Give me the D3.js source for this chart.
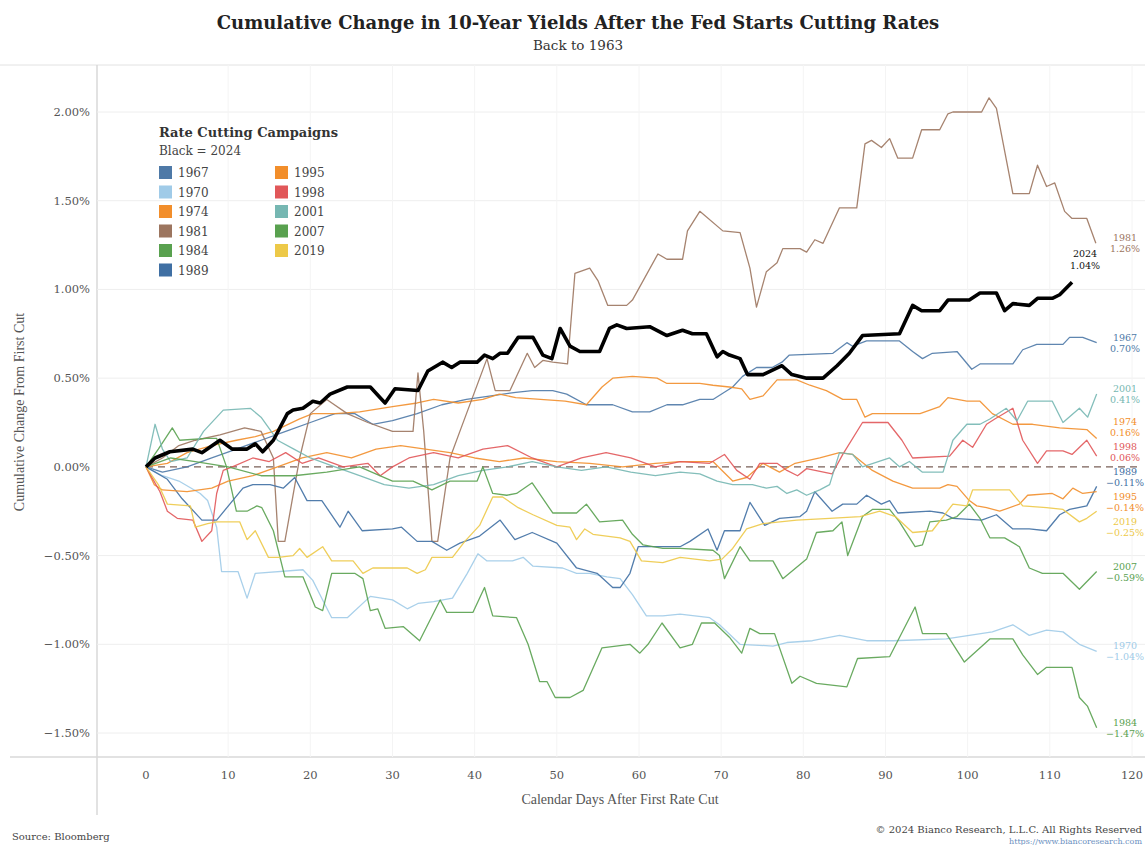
<!DOCTYPE html>
<html lang="en">
<head>
<meta charset="UTF-8">
<title>Cumulative Change in 10-Year Yields After the Fed Starts Cutting Rates</title>
<script src="https://d3js.org/d3.v7.min.js"></script>
<style>
  body { margin: 0; background: #fff; }
  svg { display: block; font-family: "DejaVu Serif", Georgia, serif; }
  .tick-label { font-size: 11.5px; fill: #555; }
  .axis-title { font-family: "Liberation Serif", serif; font-size: 14px; fill: #555; }
</style>
</head>
<body>
<svg width="1145" height="845"></svg>
<script>
// ---- data ----
const years = ["1967", "1970", "1974", "1981", "1984", "1989", "1995", "1998", "2001", "2007", "2019", "2024"];
const colors = ["#4e79a7", "#a0cbe8", "#f28e2b", "#9c755f", "#59a14f", "#3f6fa3", "#f28e2b", "#e15759", "#76b7b2", "#59a14f", "#edc948", "#000000"];
const yTicks = [-1.5, -1.0, -0.5, 0, 0.5, 1.0, 1.5, 2.0];
const xTicks = [0, 10, 20, 30, 40, 50, 60, 70, 80, 90, 100, 110, 120];

// [calendar day, cumulative change in %]
const s1967 = [[0,0],[2,-0.03],[5,0.0],[8,0.05],[11,0.1],[14,0.15],[17,0.2],[20,0.25],[23,0.3],[25.4,0.3],[27.6,0.24],[30,0.26],[33,0.3],[36,0.35],[39,0.38],[42,0.4],[45,0.42],[47,0.43],[49.5,0.43],[51.2,0.41],[53.6,0.35],[56.8,0.35],[59.2,0.31],[61.3,0.31],[63.4,0.35],[65.3,0.35],[67.4,0.38],[69,0.38],[71.4,0.45],[72.6,0.51],[74.3,0.56],[76.2,0.56],[77.4,0.59],[78.3,0.63],[83.6,0.64],[85.3,0.7],[86,0.68],[87.7,0.71],[91.7,0.71],[93.3,0.65],[94.5,0.61],[95.7,0.64],[98.7,0.65],[100.5,0.55],[101.5,0.58],[105.5,0.58],[106.7,0.66],[108.4,0.69],[111.6,0.69],[112.4,0.73],[114,0.73],[115.7,0.70]];
const s1970 = [[0,0],[2,-0.05],[4,-0.08],[6.6,-0.15],[7.5,-0.19],[8.6,-0.34],[9.2,-0.59],[11.2,-0.59],[12.3,-0.74],[13.3,-0.6],[19.1,-0.58],[20.3,-0.64],[21.5,-0.75],[22.6,-0.85],[24.5,-0.85],[27.3,-0.73],[30,-0.75],[31.8,-0.8],[33.1,-0.77],[35,-0.76],[37.3,-0.74],[39.1,-0.6],[40.4,-0.49],[41.5,-0.53],[44.6,-0.53],[45.9,-0.51],[47.1,-0.56],[50.7,-0.57],[52.4,-0.6],[54,-0.6],[56.1,-0.62],[57.7,-0.63],[59.2,-0.72],[60.9,-0.84],[62.9,-0.84],[65,-0.83],[68.6,-0.85],[69.8,-0.89],[72.3,-1.0],[76.3,-1.01],[78,-0.99],[81.1,-0.98],[84.4,-0.95],[87.7,-0.98],[90.9,-0.98],[97.4,-0.97],[103,-0.93],[105.5,-0.89],[107.5,-0.95],[109.6,-0.92],[111.6,-0.93],[113.6,-1.0],[115.7,-1.04]];
const s1974 = [[0,0],[2.6,0.02],[5,0.08],[8,0.12],[11,0.15],[13.3,0.17],[15.5,0.2],[18.7,0.27],[20.3,0.3],[23,0.3],[26,0.31],[30,0.34],[33,0.36],[35,0.38],[38,0.36],[41,0.38],[43,0.41],[45,0.39],[48,0.38],[51,0.37],[53.6,0.35],[55.5,0.45],[56.8,0.5],[59.2,0.51],[62.2,0.5],[63.4,0.47],[67.4,0.47],[69,0.46],[71,0.45],[72.5,0.44],[73.5,0.38],[75.1,0.4],[76.8,0.49],[79.2,0.49],[80.8,0.46],[82.8,0.43],[84.8,0.38],[86.5,0.38],[87.5,0.28],[88.4,0.3],[90.9,0.3],[94.2,0.3],[96.6,0.34],[97.6,0.39],[99.9,0.37],[101.5,0.37],[103,0.3],[105.5,0.24],[107.9,0.24],[111.2,0.22],[114.5,0.21],[115.7,0.16]];
const s1981 = [[0,0],[2,0.05],[4,0.12],[6,0.15],[9,0.18],[12,0.22],[14,0.2],[15.5,0.05],[16.1,-0.42],[16.9,-0.42],[18.7,0.05],[20,0.3],[22,0.38],[24.5,0.3],[27,0.25],[30,0.2],[32.5,0.2],[33.1,0.53],[33.8,0.2],[34.8,-0.42],[35.5,-0.42],[37,0.05],[38.2,0.2],[41.5,0.61],[42.5,0.43],[44.3,0.43],[46.4,0.64],[47.3,0.56],[48.3,0.6],[49.5,0.59],[51.3,0.58],[52.2,1.09],[54,1.12],[55,1.05],[56.2,0.91],[58.5,0.91],[59.2,0.94],[62.3,1.2],[63.4,1.17],[65.3,1.17],[65.9,1.33],[67.4,1.44],[70.2,1.33],[72.3,1.32],[73.5,1.12],[74.3,0.9],[75.5,1.1],[76.8,1.15],[77.5,1.23],[79.6,1.23],[80.4,1.21],[81.4,1.28],[82.4,1.26],[84.4,1.46],[86.5,1.46],[87.5,1.82],[88.3,1.84],[89.5,1.8],[90.5,1.85],[91.5,1.74],[93.3,1.74],[94.4,1.9],[96.6,1.9],[97.6,1.99],[98.2,2.0],[101.7,2.0],[102.6,2.08],[103.5,2.02],[105.5,1.54],[107.5,1.54],[108.5,1.7],[109.6,1.58],[110.6,1.6],[111.8,1.44],[112.7,1.4],[114.5,1.4],[115.6,1.26]];
const s1984 = [[0,0],[1.5,0.1],[3.2,0.22],[4.1,0.15],[7.4,0.16],[8.6,0.16],[9.8,0.0],[11,-0.25],[12.3,-0.25],[13.5,-0.22],[14.1,-0.23],[15.5,-0.36],[16.9,-0.62],[19.1,-0.62],[20.6,-0.79],[21.5,-0.81],[22.6,-0.6],[25.4,-0.6],[26.4,-0.63],[27.3,-0.81],[28.2,-0.8],[29.1,-0.91],[31.3,-0.9],[33.3,-0.98],[35.8,-0.75],[36.6,-0.82],[39.8,-0.82],[41.2,-0.68],[42.2,-0.84],[45.1,-0.85],[46.5,-1.0],[47.9,-1.21],[48.8,-1.21],[49.8,-1.3],[51.6,-1.3],[53.2,-1.26],[55.5,-1.02],[58.9,-1.0],[60.1,-1.05],[61.1,-1.0],[62.8,-0.88],[65,-1.02],[66.5,-1.0],[67.6,-0.88],[69.2,-0.88],[71,-0.96],[72.5,-1.05],[73.5,-0.91],[74.7,-0.94],[76.5,-0.94],[78.6,-1.22],[79.6,-1.18],[81.6,-1.22],[85.3,-1.24],[86.6,-1.08],[90.5,-1.07],[93.6,-0.79],[94.5,-0.94],[97.4,-0.94],[99.6,-1.1],[102.7,-0.97],[105.5,-0.97],[106.7,-1.06],[108.5,-1.17],[109.6,-1.13],[112.7,-1.13],[113.6,-1.3],[114.6,-1.35],[115.7,-1.47]];
const s1989 = [[0,0],[2.6,-0.07],[4.4,-0.18],[6.8,-0.3],[8.6,-0.3],[10.2,-0.21],[11.8,-0.12],[13,-0.1],[15.1,-0.1],[16.7,-0.12],[18.1,-0.06],[19.6,-0.19],[21.4,-0.19],[23.6,-0.34],[24.6,-0.25],[26.3,-0.36],[30,-0.35],[31.1,-0.34],[33,-0.42],[34.8,-0.42],[36.6,-0.47],[38.2,-0.43],[40.6,-0.39],[43.1,-0.3],[44.9,-0.41],[47,-0.37],[50,-0.43],[52.4,-0.57],[54.9,-0.6],[56.8,-0.68],[57.7,-0.68],[58.9,-0.6],[59.9,-0.45],[62.8,-0.45],[65,-0.45],[66.2,-0.42],[68.4,-0.35],[69.5,-0.47],[70.4,-0.36],[72.3,-0.36],[73.5,-0.2],[75.3,-0.33],[77.1,-0.29],[79.6,-0.28],[80.4,-0.25],[81.4,-0.14],[83.5,-0.25],[84.8,-0.21],[86.5,-0.21],[87.7,-0.16],[89.5,-0.21],[90.5,-0.19],[91.5,-0.26],[95.4,-0.25],[97,-0.26],[98.2,-0.29],[101.7,-0.3],[103.5,-0.27],[105.5,-0.35],[107.5,-0.35],[109.6,-0.36],[111.2,-0.27],[112.4,-0.24],[114.5,-0.22],[115.7,-0.11]];
const s1995 = [[0,0],[1,-0.1],[2,-0.13],[5,-0.14],[8,-0.12],[10,-0.08],[13,-0.05],[16,0.0],[19,0.05],[22,0.08],[25,0.05],[28,0.1],[31,0.12],[34,0.1],[37,0.08],[40,0.05],[43,0.03],[46,0.05],[50,0.03],[54,0.02],[58,0.0],[62,0.02],[65,0.03],[69,0.03],[71.4,-0.08],[73.1,-0.06],[75.1,0.02],[77.1,-0.03],[79,0.02],[82,0.05],[84.4,0.08],[86,0.07],[88.4,-0.02],[90.9,-0.08],[93.3,-0.12],[96.6,-0.12],[97.6,-0.1],[98.7,-0.11],[100.2,-0.19],[101.1,-0.22],[102.3,-0.23],[103.9,-0.25],[106.3,-0.21],[107.3,-0.16],[110.3,-0.15],[111.6,-0.18],[112.8,-0.12],[114,-0.15],[115.7,-0.14]];
const s1998 = [[0,0],[1.7,-0.14],[2.6,-0.25],[3.8,-0.29],[5.7,-0.3],[6.8,-0.42],[8,-0.36],[8.6,-0.15],[9.4,-0.02],[10.5,0.0],[13,0.05],[15,0.03],[17,0.08],[19,0.02],[21,0.05],[24,0.0],[27,0.02],[28.5,-0.05],[30,0.0],[32,0.05],[35,0.08],[38,0.05],[41,0.1],[44,0.12],[47,0.05],[50,0.0],[53,0.05],[56,0.08],[59,0.05],[62,0.0],[65,0.03],[68.6,0.02],[70.4,0.07],[71.9,-0.02],[73.5,-0.07],[74.7,0.02],[76.8,0.02],[78,-0.02],[79.3,-0.05],[80.4,-0.01],[83.5,-0.04],[84.8,0.07],[87.2,0.25],[90.3,0.25],[92,0.15],[93.3,0.05],[97.8,0.06],[99.4,0.15],[100.6,0.11],[102.3,0.24],[103.3,0.27],[105.5,0.33],[106.7,0.15],[108.5,0.02],[109.6,0.09],[111.6,0.09],[112.7,0.07],[114.5,0.15],[115.7,0.06]];
const s2001 = [[0,0],[1.1,0.24],[2,0.1],[3,0.03],[5,0.05],[7,0.2],[9.4,0.32],[12.7,0.33],[14,0.28],[16,0.15],[18,0.1],[20,0.05],[23,0.0],[26,-0.05],[29,-0.1],[32,-0.12],[35,-0.1],[38,-0.05],[41,-0.02],[44,0.0],[47,0.03],[50,0.0],[53,-0.02],[56,0.0],[59,-0.03],[62,-0.05],[65,-0.03],[67.4,-0.04],[69.5,-0.08],[71.4,-0.1],[73.8,-0.1],[75.5,-0.12],[76.8,-0.11],[78,-0.15],[79.2,-0.13],[80.4,-0.16],[82,-0.13],[83.2,-0.1],[84.4,0.08],[86,0.07],[87.2,0.0],[90.5,0.05],[91.7,0.0],[92.9,0.03],[94.5,-0.03],[97,-0.03],[98.2,0.15],[99.9,0.24],[101.5,0.24],[102.7,0.27],[104.7,0.33],[106,0.26],[107.3,0.37],[110.3,0.37],[111.6,0.25],[113.6,0.33],[114.6,0.28],[115.7,0.41]];
const s2007 = [[0,0],[3,0.05],[6,0.03],[10,0.0],[14,-0.05],[18,-0.05],[22,-0.03],[26,0.0],[30,-0.08],[32.5,-0.08],[34.8,-0.13],[37,-0.08],[40.3,-0.08],[41,0.0],[42.2,-0.15],[43.9,-0.16],[45.1,-0.15],[47,-0.09],[49.5,-0.26],[52.4,-0.26],[53.6,-0.21],[55.2,-0.31],[58,-0.3],[59.2,-0.38],[60.5,-0.44],[62.9,-0.46],[65,-0.46],[69,-0.47],[69.8,-0.5],[70.4,-0.63],[72.3,-0.45],[73.5,-0.53],[76.3,-0.53],[77.5,-0.63],[80.4,-0.52],[81.6,-0.37],[83.6,-0.36],[84.7,-0.31],[85.4,-0.5],[87.2,-0.28],[88.4,-0.24],[90.5,-0.24],[91.7,-0.31],[93.6,-0.45],[94.5,-0.44],[95.4,-0.31],[97.4,-0.3],[98.7,-0.28],[100.2,-0.21],[101.5,-0.29],[102.7,-0.4],[104.5,-0.4],[106.3,-0.45],[107.5,-0.57],[109.1,-0.6],[111.6,-0.6],[113.6,-0.69],[115.7,-0.59]];
const s2019 = [[0,0],[1.5,-0.1],[2.6,-0.21],[5.4,-0.22],[6,-0.34],[7.5,-0.32],[8.6,-0.31],[11.4,-0.31],[12.3,-0.41],[13.3,-0.36],[14.9,-0.51],[16.1,-0.51],[17.9,-0.5],[18.7,-0.46],[19.6,-0.51],[21.5,-0.45],[22.6,-0.53],[25.2,-0.53],[26.4,-0.6],[27.6,-0.57],[31.8,-0.57],[33,-0.6],[34,-0.58],[34.8,-0.51],[37.3,-0.51],[38.8,-0.42],[40.6,-0.33],[42.2,-0.17],[43.4,-0.17],[45.3,-0.23],[47.1,-0.27],[50,-0.33],[51.6,-0.34],[52.4,-0.41],[53.4,-0.35],[54.4,-0.38],[57.7,-0.4],[58.9,-0.42],[60.3,-0.53],[62.9,-0.54],[65,-0.51],[68.6,-0.53],[70.1,-0.52],[71.4,-0.46],[73.1,-0.35],[75.1,-0.32],[79.2,-0.3],[83.2,-0.29],[86.9,-0.28],[89.3,-0.25],[91.2,-0.28],[93.3,-0.37],[95.7,-0.36],[98.2,-0.21],[99.9,-0.22],[100.6,-0.13],[105.1,-0.13],[106.7,-0.22],[109.6,-0.23],[111.6,-0.24],[113.6,-0.31],[114.5,-0.29],[115.7,-0.25]];
const s2024 = [[0,0],[1.1,0.05],[2.9,0.085],[5.7,0.1],[6.8,0.08],[9,0.15],[10.5,0.1],[12.3,0.1],[13.3,0.13],[14.2,0.085],[15.5,0.15],[17.2,0.3],[17.9,0.32],[19.1,0.33],[20.3,0.37],[21.2,0.36],[22.4,0.41],[24.5,0.45],[27.3,0.45],[28.5,0.39],[29.1,0.36],[30.3,0.44],[33.1,0.43],[34.3,0.54],[36.1,0.59],[37.2,0.56],[38.2,0.59],[40.3,0.59],[41.2,0.63],[42.2,0.61],[43.1,0.64],[44,0.64],[45.3,0.73],[47.1,0.73],[48.3,0.63],[49.4,0.61],[50.4,0.78],[51.6,0.68],[52.8,0.65],[55.2,0.65],[56.4,0.78],[57.3,0.8],[58.5,0.78],[61.3,0.79],[63.4,0.74],[65.3,0.77],[66.5,0.75],[68.2,0.75],[69.5,0.62],[70.2,0.65],[71,0.63],[72.3,0.61],[73.2,0.52],[75.1,0.52],[77.4,0.57],[78.6,0.52],[80.4,0.5],[82.4,0.5],[84.1,0.57],[85.6,0.64],[87.2,0.74],[91.7,0.75],[93.3,0.91],[94.4,0.88],[96.6,0.88],[97.6,0.94],[100.2,0.94],[101.5,0.98],[103.5,0.98],[104.5,0.88],[105.5,0.92],[107.5,0.91],[108.5,0.95],[110.3,0.95],[111.2,0.97],[112.7,1.04]];
const seriesData = [s1967, s1970, s1974, s1981, s1984, s1989, s1995, s1998, s2001, s2007, s2019, s2024];

// ---- layout ----
const W = 1145, H = 845;
const svg = d3.select("svg");

const x = d3.scaleLinear().domain([0, 120]).range([146, 1132]);
const y = d3.scaleLinear().domain([-1.5, 2.0]).range([733, 112]);
const plotLeft = 97, plotRight = 1145, plotTop = 65, plotBottom = 757;

// frame lines
svg.append("line").attr("x1", 0).attr("x2", W).attr("y1", plotTop).attr("y2", plotTop)
    .attr("stroke", "#e2e2e2");
svg.append("line").attr("x1", 10).attr("x2", W).attr("y1", plotBottom).attr("y2", plotBottom)
    .attr("stroke", "#d8d8d8").attr("stroke-width", 1.5);
svg.append("line").attr("x1", plotLeft).attr("x2", plotLeft).attr("y1", plotTop).attr("y2", 815)
    .attr("stroke", "#d8d8d8").attr("stroke-width", 1.5);

// gridlines
svg.append("g").selectAll("line").data(yTicks.filter(d => d !== 0)).join("line")
    .attr("x1", plotLeft).attr("x2", plotRight)
    .attr("y1", d => y(d)).attr("y2", d => y(d))
    .attr("stroke", "#eeeeee");
svg.append("g").selectAll("line").data(xTicks.slice(1)).join("line")
    .attr("x1", d => x(d)).attr("x2", d => x(d))
    .attr("y1", plotTop).attr("y2", plotBottom)
    .attr("stroke", "#f4f4f4");

// zero line
svg.append("line").attr("x1", x(0)).attr("x2", plotRight - 4).attr("y1", y(0)).attr("y2", y(0))
    .attr("stroke", "#7a6058").attr("stroke-width", 1.4).attr("stroke-dasharray", "7,5");

// y tick labels
svg.append("g").selectAll("text").data(yTicks).join("text")
    .attr("class", "tick-label")
    .attr("x", 90).attr("y", d => y(d) + 4)
    .attr("text-anchor", "end")
    .text(d => d3.format(".2f")(d) + "%");

// x tick labels
svg.append("g").selectAll("text").data(xTicks).join("text")
    .attr("class", "tick-label")
    .attr("x", d => x(d)).attr("y", 779)
    .attr("text-anchor", "middle")
    .text(d => d);

// axis titles
svg.append("text").attr("class", "axis-title")
    .attr("x", 620).attr("y", 804).attr("text-anchor", "middle")
    .text("Calendar Days After First Rate Cut");
svg.append("text").attr("class", "axis-title")
    .attr("transform", "translate(24,412) rotate(-90)")
    .attr("text-anchor", "middle")
    .text("Cumulative Change From First Cut");

// title
svg.append("text").attr("x", 578).attr("y", 29).attr("text-anchor", "middle")
    .style("font-size", "18px").style("font-weight", "bold").attr("fill", "#222")
    .text("Cumulative Change in 10-Year Yields After the Fed Starts Cutting Rates");
svg.append("text").attr("x", 578).attr("y", 50).attr("text-anchor", "middle")
    .style("font-size", "13.5px").attr("fill", "#333")
    .text("Back to 1963");

// lines
const line = d3.line().x(d => x(d[0])).y(d => y(d[1]));
const lines = svg.append("g");
seriesData.forEach((data, i) => {
    if (years[i] === "2024") return;
    lines.append("path").datum(data)
        .attr("fill", "none")
        .attr("stroke", colors[i])
        .attr("stroke-width", 1.3)
        .attr("stroke-opacity", 0.9)
        .attr("stroke-linejoin", "round")
        .attr("d", line);
});
lines.append("path").datum(s2024)
    .attr("fill", "none").attr("stroke", "#000")
    .attr("stroke-width", 3.6).attr("stroke-linejoin", "round")
    .attr("d", line);

// end labels (historical), nudged apart so they don't overlap
const ends = seriesData.map((data, i) => ({ year: years[i], color: colors[i], v: data[data.length - 1][1] }))
    .filter(d => d.year !== "2024")
    .map(d => ({ ...d, ly: y(d.v) }))
    .sort((a, b) => a.ly - b.ly);
for (let k = 0; k < 200; k++) {
    for (let j = 1; j < ends.length; j++) {
        const gap = ends[j].ly - ends[j - 1].ly;
        if (gap < 25) {
            const push = (25 - gap) / 2;
            ends[j].ly += push;
            ends[j - 1].ly -= push;
        }
    }
}
const endG = svg.append("g").style("font-size", "9.5px");
ends.forEach(d => {
    const t = endG.append("text").attr("x", 1125).attr("text-anchor", "middle").attr("fill", d.color);
    t.append("tspan").attr("x", 1125).attr("y", d.ly - 2).text(d.year);
    t.append("tspan").attr("x", 1125).attr("y", d.ly + 9).text(d3.format(".2f")(d.v) + "%");
});

// 2024 label
const last24 = s2024[s2024.length - 1];
const lab24 = svg.append("g").attr("transform", `translate(${x(last24[0]) + 13},${y(last24[1]) - 22})`);
lab24.append("rect").attr("x", -17).attr("y", -14).attr("width", 34).attr("height", 27).attr("fill", "#fff");
const t24 = lab24.append("text").attr("text-anchor", "middle").style("font-size", "9.5px").attr("fill", "#111");
t24.append("tspan").attr("x", 0).attr("y", -3).text("2024");
t24.append("tspan").attr("x", 0).attr("y", 9).text(d3.format(".2f")(last24[1]) + "%");

// legend
const legend = svg.append("g").attr("transform", "translate(159,137)");
legend.append("text").attr("x", 0).attr("y", 0)
    .style("font-size", "13px").style("font-weight", "bold").attr("fill", "#333")
    .text("Rate Cutting Campaigns");
legend.append("text").attr("x", 0).attr("y", 18)
    .style("font-size", "12px").attr("fill", "#444")
    .text("Black = 2024");
years.slice(0, 11).forEach((yr, i) => {
    const col = i < 6 ? 0 : 1;
    const row = i < 6 ? i : i - 6;
    const g = legend.append("g").attr("transform", `translate(${col * 116},${29 + row * 19.5})`);
    g.append("rect").attr("width", 13).attr("height", 13).attr("fill", colors[i]);
    g.append("text").attr("x", 19).attr("y", 11).style("font-size", "12px").attr("fill", "#444").text(yr);
});

// footer
svg.append("text").attr("x", 12).attr("y", 840).style("font-size", "10px").attr("fill", "#444")
    .text("Source: Bloomberg");
svg.append("text").attr("x", 1142).attr("y", 833).attr("text-anchor", "end")
    .style("font-size", "10px").attr("fill", "#444")
    .text("© 2024 Bianco Research, L.L.C. All Rights Reserved");
svg.append("text").attr("x", 1142).attr("y", 844).attr("text-anchor", "end")
    .style("font-size", "8px").attr("fill", "#6a8fc0")
    .text("https://www.biancoresearch.com");
</script>
</body>
</html>
